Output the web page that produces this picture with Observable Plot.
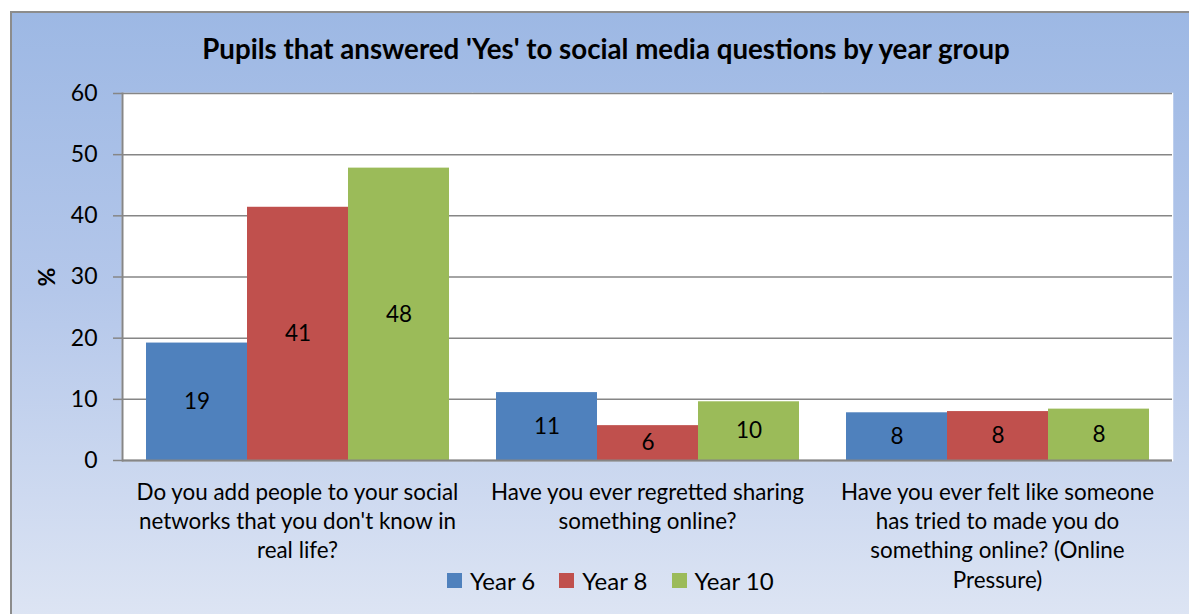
<!DOCTYPE html>
<html>
<head>
<meta charset="utf-8">
<script src="https://cdn.jsdelivr.net/npm/d3@7"></script>
<script src="https://cdn.jsdelivr.net/npm/@observablehq/plot@0.6"></script>
<style>
  html, body { margin: 0; padding: 0; background: #ffffff; width: 1189px; height: 614px; overflow: hidden; }
  #wrap { position: relative; width: 1189px; height: 614px; font-family: Lato, "Open Sans", sans-serif; }
  #box { position: absolute; left: 10px; top: 11px; width: 1200px; height: 620px;
         border-left: 2px solid #8c8c8c; border-top: 2px solid #8c8c8c;
         background: linear-gradient(#9db8e4 0%, #b4c7ea 45%, #dfe6f4 100%); }
  #title { position: absolute; left: 0; width: 1212px; top: 32px; text-align: center;
           font-weight: bold; font-size: 27.7px; color: #000; }
  #ylabel { position: absolute; left: 46px; top: 277px; transform: translate(-50%, -50%) rotate(-90deg);
            font-weight: bold; font-size: 23px; }
  #chart { position: absolute; left: 0; top: 0; }
  #legend { position: absolute; left: 447px; top: 566px; display: flex; align-items: center; font-size: 24px; }
  .item { display: flex; align-items: center; margin-right: 24px; }
  .sw { width: 15px; height: 15px; margin-right: 8px; }
</style>
</head>
<body>
<div id="wrap">
  <div id="box"></div>
  <div id="title"></div>
  <div id="ylabel">%</div>
  <div id="chart"></div>
  <div id="legend"></div>
</div>
<script>
const chartTitle = "Pupils that answered 'Yes' to social media questions by year group";
const questions = [
  "Do you add people to your social\nnetworks that you don't know in\nreal life?",
  "Have you ever regretted sharing\nsomething online?",
  "Have you ever felt like someone\nhas tried to made you do\nsomething online? (Online\nPressure)"
];
const years = ["Year 6", "Year 8", "Year 10"];
const year6 = [19.2, 11.1, 7.8];
const year8 = [41.4, 5.7, 8.0];
const year10 = [47.8, 9.6, 8.4];
const yTicks = [0, 10, 20, 30, 40, 50, 60];
const colors = ["#4f81bd", "#c0504d", "#9bbb59"];

const series = [year6, year8, year10];
const data = [];
questions.forEach((q, i) => years.forEach((y, j) => data.push({q, year: y, value: series[j][i]})));

const font = "Lato, 'Open Sans', sans-serif";
document.getElementById("title").textContent = chartTitle;

const chart = Plot.plot({
  width: 1189,
  height: 614,
  marginLeft: 122,
  marginRight: 17,
  marginTop: 93,
  marginBottom: 154,
  style: {background: "transparent", fontFamily: font, fontSize: "22px", color: "#000", overflow: "visible"},
  fx: {domain: questions, padding: 0, axis: null},
  x: {domain: years, paddingInner: 0, paddingOuter: 0.216, axis: null},
  y: {domain: [0, 60], axis: null},
  color: {domain: years, range: colors},
  marks: [
    Plot.frame({fill: "white", stroke: "white", strokeWidth: 1.5}),
    Plot.gridY(yTicks, {stroke: "#868686", strokeOpacity: 1, strokeWidth: 1.5}),
    Plot.barY(data, {fx: "q", x: "year", y: "value", fill: "year"}),
    Plot.text(data, {fx: "q", x: "year", y: d => d.value / 2, text: d => d3.format(".0f")(d.value), fontSize: 22.5, fill: "#000"}),
    Plot.ruleY([0], {stroke: "#868686", strokeWidth: 2}),
    Plot.frame({anchor: "left", facetAnchor: "left", stroke: "#868686", strokeWidth: 2}),
    Plot.axisY(yTicks, {tickSize: 9, tickPadding: 16, stroke: "#868686", strokeWidth: 1.5, fontSize: 23, label: null, tickFormat: d => String(d), facetAnchor: "left"}),
    Plot.text(questions, {fx: d => d, text: d => d, frameAnchor: "bottom", lineAnchor: "top", dy: 19, lineHeight: 1.3, fontSize: 22.4, fill: "#000"})
  ]
});
document.getElementById("chart").appendChild(chart);

const legend = document.getElementById("legend");
years.forEach((y, i) => {
  const it = document.createElement("div");
  it.className = "item";
  const sw = document.createElement("div");
  sw.className = "sw";
  sw.style.background = colors[i];
  const t = document.createElement("span");
  t.textContent = y;
  it.appendChild(sw); it.appendChild(t);
  legend.appendChild(it);
});
</script>
</body>
</html>
